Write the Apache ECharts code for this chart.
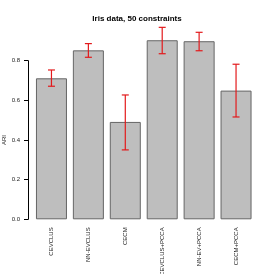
<!DOCTYPE html>
<html><head><meta charset="utf-8">
<script src="https://cdn.jsdelivr.net/npm/echarts@6/dist/echarts.min.js"></script>
<style>html,body{margin:0;padding:0;background:#fff}#c{width:274px;height:274px}</style>
</head><body><div id="c"></div>
<script>
var categories = ["CEVCLUS","NN-EVCLUS","CECM","CEVCLUS+PCCA","NN-EV+PCCA","CECM+PCCA"];
var means = [0.711, 0.852, 0.491, 0.903, 0.898, 0.649];
var lower = [0.671, 0.817, 0.350, 0.835, 0.850, 0.516];
var upper = [0.753, 0.886, 0.627, 0.968, 0.943, 0.782];
var yTicks = [0, 0.2, 0.4, 0.6, 0.8];

var F = "Liberation Sans, Arial, sans-serif";
var chart = echarts.init(document.getElementById('c'), null, {renderer:'canvas'});
var errData = categories.map(function(c,i){return [i, lower[i], upper[i]];});
chart.setOption({
  animation:false,
  title:{text:"Iris data, 50 constraints", left:'center', top:10,
    textStyle:{fontFamily:F, fontWeight:'bold', fontSize:8, color:'#000'}},
  grid:[
    {left:33, right:19.5, top:21, height:198.3, containLabel:false, outerBoundsMode:'none'},
    {left:28, width:1, top:60.7, height:158.6, containLabel:false, outerBoundsMode:'none'}
  ],
  xAxis:[
    {gridIndex:0, type:'category', data:categories,
      axisLine:{show:false}, axisTick:{show:false},
      axisLabel:{rotate:90, margin:8, fontFamily:F, fontSize:6, color:'#222', hideOverlap:false}},
    {gridIndex:1, type:'value', show:false}
  ],
  yAxis:[
    {gridIndex:0, type:'value', min:0, max:1, show:false},
    {gridIndex:1, type:'value', min:0, max:0.8, interval:0.2,
      name:'ARI', nameLocation:'middle', nameGap:21,
      nameTextStyle:{fontFamily:F, fontSize:6, color:'#222'},
      axisLine:{show:true, lineStyle:{color:'#000', width:1}},
      axisTick:{show:true, length:4, lineStyle:{color:'#000'}},
      splitLine:{show:false},
      axisLabel:{margin:8, fontFamily:F, fontSize:6, color:'#222',
        formatter:function(v){return v.toFixed(1);}}}
  ],
  series:[
    {type:'bar', xAxisIndex:0, yAxisIndex:0, data:means, barCategoryGap:'16%',
      itemStyle:{color:'#bebebe', borderColor:'#666', borderWidth:1}},
    {type:'custom', xAxisIndex:0, yAxisIndex:0, data:errData, z:10,
      renderItem:function(params, api){
        var x = api.value(0);
        var lo = api.coord([x, api.value(1)]);
        var hi = api.coord([x, api.value(2)]);
        var w = 3.5;
        var st = {stroke:'#e31a1c', lineWidth:1.2};
        return {type:'group', children:[
          {type:'line', shape:{x1:hi[0], y1:hi[1], x2:lo[0], y2:lo[1]}, style:st},
          {type:'line', shape:{x1:hi[0]-w, y1:hi[1], x2:hi[0]+w, y2:hi[1]}, style:st},
          {type:'line', shape:{x1:lo[0]-w, y1:lo[1], x2:lo[0]+w, y2:lo[1]}, style:st}
        ]};
      }}
  ]
});
</script></body></html>
